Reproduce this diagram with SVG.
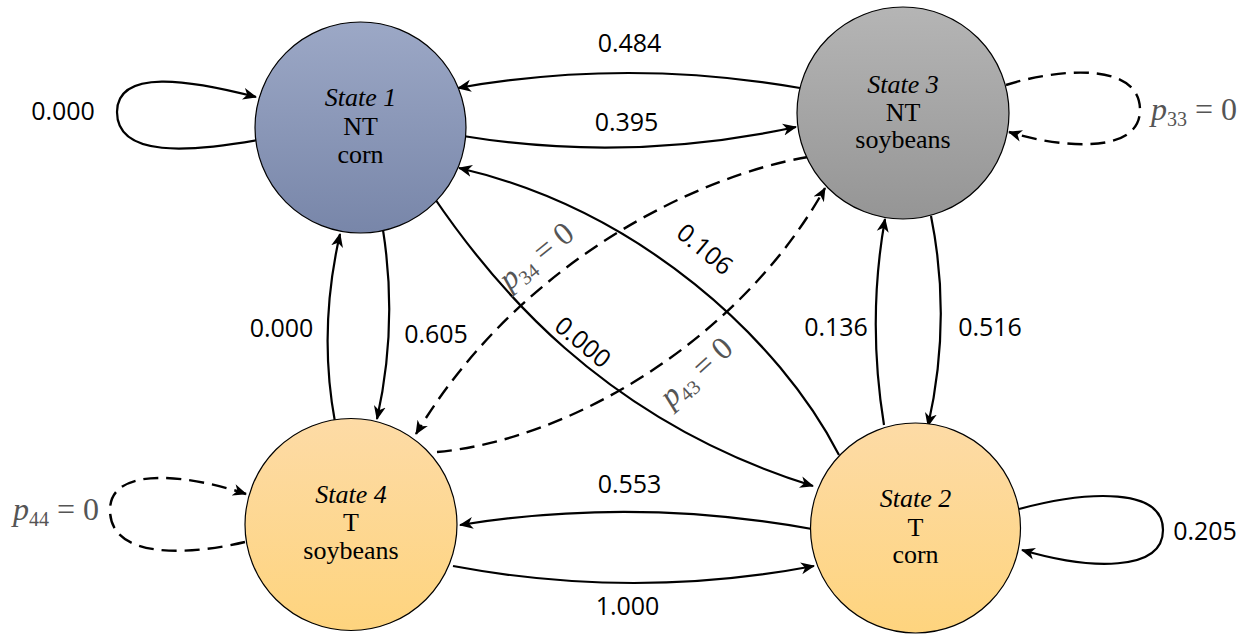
<svg xmlns="http://www.w3.org/2000/svg" width="1241" height="635" viewBox="0 0 1241 635">
<defs>
<linearGradient id="gBlue" x1="0" y1="0" x2="0" y2="1"><stop offset="0" stop-color="#9ca8c6"/><stop offset="1" stop-color="#7886a9"/></linearGradient>
<linearGradient id="gGray" x1="0" y1="0" x2="0" y2="1"><stop offset="0" stop-color="#b5b5b5"/><stop offset="1" stop-color="#959595"/></linearGradient>
<linearGradient id="gOrange" x1="0" y1="0" x2="0" y2="1"><stop offset="0" stop-color="#fddba6"/><stop offset="1" stop-color="#fed47e"/></linearGradient>
<marker id="arr" markerWidth="15" markerHeight="13" refX="13" refY="6.5" orient="auto" markerUnits="userSpaceOnUse"><path d="M0,0.5 L14,6.5 L0,12.5 L4,6.5 z" fill="#000"/></marker>
<style>
.node{stroke:#000;stroke-width:1.2}
.nt{font-family:"Liberation Serif","Times New Roman",serif;font-size:26px;fill:#000;text-anchor:middle}
.it{font-style:italic}
.e{fill:none;stroke:#000;stroke-width:2.2;marker-end:url(#arr)}
.d{stroke-dasharray:15 8;stroke-width:2.4}
.lb{font-family:"Open Sans","Liberation Sans",sans-serif;font-size:25px;fill:#000;text-anchor:middle}
.pl{font-family:"Liberation Serif","Times New Roman",serif;font-size:32px;fill:#555}
.pi{font-style:italic}
</style>
</defs>
<g id="connectors">
<path class="e" d="M258,140 C190,152 117,158 117,112 C117,68 190,80 256,97"/>
<path class="e" d="M800,88 Q628,58 458,88"/>
<path class="e" d="M463,136 Q628,163 796,127"/>
<path class="e" d="M812,529 Q635,497 460,525"/>
<path class="e" d="M453,566 Q634,600 814,566"/>
<path class="e" d="M1019,509 C1090,490 1163,488 1163,530 C1163,572 1090,570 1022,550"/>
<path class="e d" d="M1006,85 C1060,68 1140,62 1140,110 C1140,155 1060,148 1009,132"/>
<path class="e d" d="M245,542 C190,555 110,560 110,510 C110,465 190,475 246,494"/>
<path class="e" d="M335,422 Q318,330 340,234"/>
<path class="e" d="M383,230 Q398,325 377,419"/>
<path class="e" d="M931,216 Q952,320 928,426"/>
<path class="e" d="M884,425 Q867,320 885,219"/>
<path class="e" d="M433,196 C490,280 600,420 813,486"/>
<path class="e" d="M839,455 C780,340 640,210 459,168"/>
<path class="e d" d="M808,157 C700,175 520,260 416,434"/>
<path class="e d" d="M437,452 C570,440 740,340 825,188"/>
</g>
<g id="labels">
<text class="lb" x="63" y="120">0.000</text>
<text class="lb" x="629.5" y="52">0.484</text>
<text class="lb" x="626.5" y="131">0.395</text>
<text class="lb" x="629.5" y="493">0.553</text>
<text class="lb" x="627.5" y="615">1.000</text>
<text class="lb" x="1205" y="540">0.205</text>
<text class="lb" x="281.5" y="337">0.000</text>
<text class="lb" x="436" y="343">0.605</text>
<text class="lb" x="836" y="336">0.136</text>
<text class="lb" x="990" y="336">0.516</text>
<text class="lb" transform="translate(705,249) rotate(40)" x="0" y="9">0.106</text>
<text class="lb" transform="translate(583,342) rotate(40)" x="0" y="9">0.000</text>
<text class="pl" x="1151" y="120"><tspan class="pi">p</tspan><tspan font-size="20" dy="6">33</tspan><tspan dy="-6"> = 0</tspan></text>
<text class="pl" x="13" y="520"><tspan class="pi">p</tspan><tspan font-size="20" dy="6">44</tspan><tspan dy="-6"> = 0</tspan></text>
<text class="pl" text-anchor="middle" transform="translate(537,257) rotate(-39)" x="0" y="9"><tspan class="pi">p</tspan><tspan font-size="20" dy="6">34</tspan><tspan dy="-6"> = 0</tspan></text>
<text class="pl" text-anchor="middle" transform="translate(697,373) rotate(-42)" x="0" y="9"><tspan class="pi">p</tspan><tspan font-size="20" dy="6">43</tspan><tspan dy="-6"> = 0</tspan></text>
</g>
<g id="state1">
<circle class="node" cx="360.5" cy="127.5" r="105.5" fill="url(#gBlue)"/>
<text class="nt it" x="360.5" y="106">State 1</text>
<text class="nt" x="360.5" y="135">NT</text>
<text class="nt" x="360.5" y="163">corn</text>
</g>
<g id="state3">
<circle class="node" cx="903" cy="113" r="106" fill="url(#gGray)"/>
<text class="nt it" x="903" y="93">State 3</text>
<text class="nt" x="903" y="121">NT</text>
<text class="nt" x="903" y="148">soybeans</text>
</g>
<g id="state4">
<circle class="node" cx="351" cy="524.5" r="106" fill="url(#gOrange)"/>
<text class="nt it" x="351" y="503">State 4</text>
<text class="nt" x="351" y="531">T</text>
<text class="nt" x="351" y="559">soybeans</text>
</g>
<g id="state2">
<circle class="node" cx="915.5" cy="528" r="105" fill="url(#gOrange)"/>
<text class="nt it" x="915.5" y="507">State 2</text>
<text class="nt" x="915.5" y="536">T</text>
<text class="nt" x="915.5" y="563">corn</text>
</g>
</svg>
